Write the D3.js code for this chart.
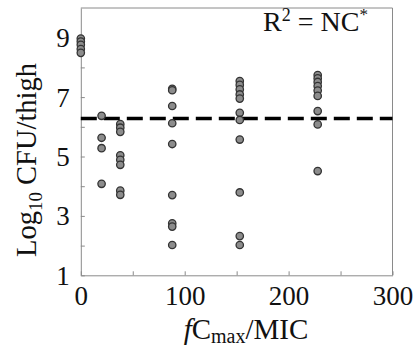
<!DOCTYPE html>
<html><head><meta charset="utf-8">
<script src="https://cdn.jsdelivr.net/npm/d3@7"></script>
<style>body{margin:0;background:#fff}svg{display:block}</style>
</head><body>
<script>
// Data
const xGroups = [0, 20, 38, 88, 153, 228];
const yValues = [
  [8.97, 8.87, 8.76, 8.62, 8.49],
  [6.37, 5.63, 5.28, 4.08],
  [6.09, 5.97, 5.83, 5.04, 4.89, 4.72, 3.85, 3.71],
  [7.28, 7.23, 6.70, 6.12, 5.42, 3.70, 2.75, 2.64, 2.02],
  [7.54, 7.41, 7.26, 7.09, 6.95, 6.47, 6.23, 5.57, 3.79, 2.32, 2.02],
  [7.74, 7.63, 7.51, 7.37, 7.22, 7.04, 6.53, 6.08, 4.51]
];
const thresholdY = 6.28;
const xTicks = [0, 50, 100, 150, 200, 250, 300];
const xTickLabels = [0, 100, 200, 300];
const yTicks = [1, 2, 3, 4, 5, 6, 7, 8, 9];
const yTickLabels = [1, 3, 5, 7, 9];

const W = 415, H = 349;
const font = "'Liberation Serif', 'Times New Roman', serif";
const svg = d3.select("body").append("svg").attr("width", W).attr("height", H);

const x = d3.scaleLinear().domain([0, 300]).range([80.8, 392.5]);
const y = d3.scaleLinear().domain([1, 10]).range([275.3, 8]);

const axisColor = "#8a8a8a";

// frame top & right
svg.append("line").attr("x1", x(0)).attr("x2", x(300)).attr("y1", y(10)).attr("y2", y(10))
  .attr("stroke", axisColor).attr("stroke-width", 1);
svg.append("line").attr("x1", x(300)).attr("x2", x(300)).attr("y1", y(10)).attr("y2", y(1))
  .attr("stroke", axisColor).attr("stroke-width", 1);

// x axis
const xAxis = svg.append("g").attr("transform", `translate(0,${y(1)})`)
  .call(d3.axisBottom(x).tickValues(xTicks).tickSizeInner(-4).tickSizeOuter(0)
    .tickFormat(d => xTickLabels.includes(d) ? d : ""));
xAxis.select(".domain").attr("stroke", axisColor);
xAxis.selectAll(".tick line").attr("stroke", axisColor);
xAxis.selectAll(".tick text").attr("font-family", font).attr("font-size", 27)
  .attr("fill", "#111").attr("dy", 0).attr("y", 30);

// y axis
const yAxis = svg.append("g").attr("transform", `translate(${x(0)},0)`)
  .call(d3.axisLeft(y).tickValues(yTicks).tickSizeInner(-4).tickSizeOuter(0)
    .tickFormat(d => yTickLabels.includes(d) ? d : ""));
yAxis.select(".domain").attr("stroke", axisColor);
yAxis.selectAll(".tick text").attr("font-family", font).attr("font-size", 27)
  .attr("fill", "#111").attr("x", -11).attr("dy", "0.33em");
yAxis.selectAll(".tick line").attr("stroke", axisColor);

// dashed threshold
svg.append("line").attr("x1", x(0)).attr("x2", x(300))
  .attr("y1", y(thresholdY)).attr("y2", y(thresholdY))
  .attr("stroke", "#000").attr("stroke-width", 3.5).attr("stroke-dasharray", "16,7");

// points
const pts = [];
xGroups.forEach((gx, i) => yValues[i].forEach(v => pts.push([gx, v])));
svg.append("g").selectAll("circle").data(pts).join("circle")
  .attr("cx", d => x(d[0])).attr("cy", d => y(d[1])).attr("r", 3.7)
  .attr("fill", "#8c8c8c").attr("stroke", "#333").attr("stroke-width", 1.3);

// R² annotation
const r2 = svg.append("text").attr("x", 263).attr("y", 31)
  .attr("font-family", font).attr("font-size", 28).attr("fill", "#111");
r2.append("tspan").text("R");
r2.append("tspan").text("2").attr("font-size", 18).attr("dy", -10);
r2.append("tspan").text(" = NC").attr("dy", 10);
r2.append("tspan").text("*").attr("font-size", 17).attr("dy", -11);

// x label
const xl = svg.append("text").attr("x", 246).attr("y", 339).attr("text-anchor", "middle")
  .attr("font-family", font).attr("font-size", 29).attr("fill", "#111");
xl.append("tspan").text("f").attr("font-style", "italic");
xl.append("tspan").text("C");
xl.append("tspan").text("max").attr("font-size", 20).attr("dy", 4);
xl.append("tspan").text("/MIC").attr("dy", -4);

// y label
const yl = svg.append("text").attr("transform", `translate(36,160) rotate(-90)`)
  .attr("text-anchor", "middle")
  .attr("font-family", font).attr("font-size", 28.5).attr("fill", "#111");
yl.append("tspan").text("Log");
yl.append("tspan").text("10").attr("font-size", 19).attr("dy", 6);
yl.append("tspan").text(" CFU/thigh").attr("dy", -6);
</script>
</body></html>
